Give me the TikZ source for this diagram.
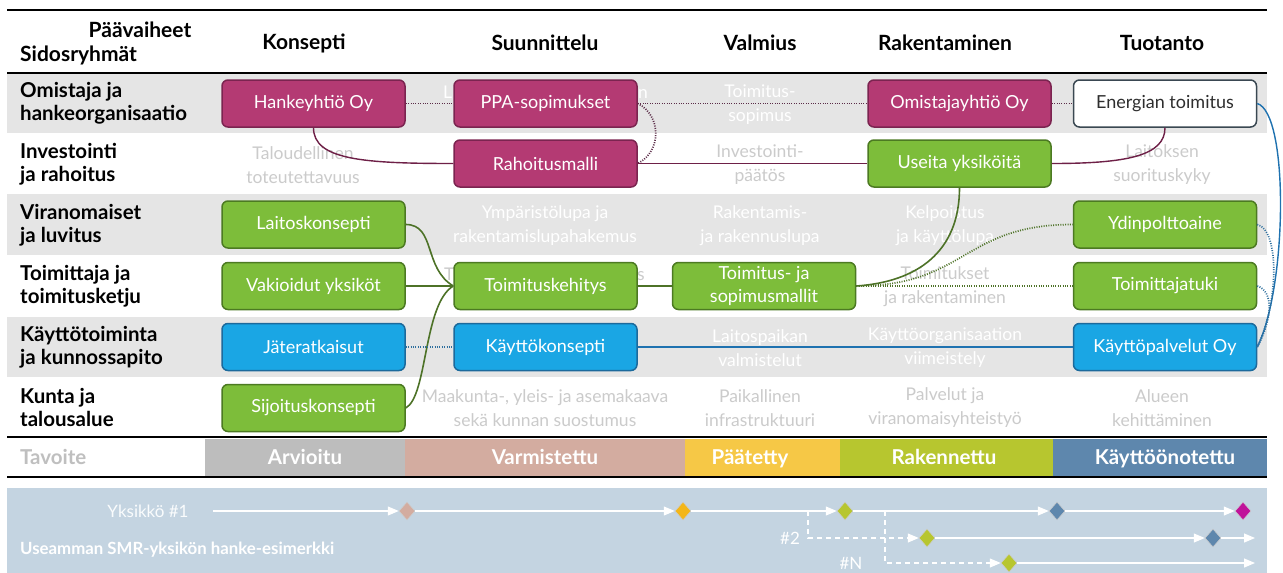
\documentclass[tikz,border=0pt]{standalone}
\usepackage{fontspec}
\setmainfont{Lato}
\usetikzlibrary{arrows.meta,shapes.geometric}
\definecolor{mag}{HTML}{B43A73}
\definecolor{magd}{HTML}{7B2450}
\definecolor{grn}{HTML}{7DBD3A}
\definecolor{grnd}{HTML}{4C7A22}
\definecolor{blu}{HTML}{1AA6E4}
\definecolor{blud}{HTML}{1C6A9C}
\definecolor{wbd}{HTML}{3A4852}
\definecolor{txtd}{HTML}{2E2E2E}
\definecolor{rowg}{HTML}{E5E5E5}
\definecolor{faint}{HTML}{CBCBCB}
\definecolor{arv}{HTML}{BDBDBD}
\definecolor{varm}{HTML}{D3ACA0}
\definecolor{paa}{HTML}{F6C846}
\definecolor{rak}{HTML}{B7C62F}
\definecolor{kay}{HTML}{5E87AD}
\definecolor{panel}{HTML}{C4D4E1}
\definecolor{dyel}{HTML}{F3B619}
\definecolor{dmag}{HTML}{C0139A}
\definecolor{mdc}{HTML}{5B2C48}
\definecolor{msc}{HTML}{6E2047}
\definecolor{gsc}{HTML}{4D7227}
\definecolor{bsc}{HTML}{1F72B0}
\definecolor{bdc}{HTML}{2E6F9E}
\definecolor{tav}{HTML}{BFBFBF}
\begin{document}
\begin{tikzpicture}[x=1pt,y=-1pt,
  box/.style={rounded corners=6pt, minimum width=183pt, minimum height=47pt, line width=1.5pt, text=white, align=center, inner sep=2pt, font=\fontsize{18}{23}\selectfont},
  mbox/.style={box, fill=mag, draw=magd},
  gbox/.style={box, fill=grn, draw=grnd},
  bbox/.style={box, fill=blu, draw=blud},
  wbox/.style={box, fill=white, draw=wbd, text=txtd},
  cellw/.style={align=center, inner sep=0pt, text=white, font=\fontsize{17.5}{24}\selectfont},
  cellg/.style={cellw, text=faint},
  rlab/.style={anchor=west, align=left, inner sep=0pt, font=\bfseries\fontsize{20.5}{23}\selectfont},
  head/.style={inner sep=0pt, font=\bfseries\fontsize{21}{23}\selectfont},
  goal/.style={inner sep=0pt, anchor=base, text=white, font=\bfseries\fontsize{20.5}{23}\selectfont},
  mdot/.style={draw=mdc, line width=1.7pt, dash pattern=on 1pt off 1.4pt},
  msol/.style={draw=msc, line width=1.4pt},
  gsol/.style={draw=gsc, line width=1.6pt},
  gdot/.style={draw=gsc, line width=1.7pt, dash pattern=on 1pt off 1.4pt},
  bsol/.style={draw=bsc, line width=1.4pt},
  bdot/.style={draw=bdc, line width=1.7pt, dash pattern=on 1pt off 1.4pt},
  rule/.style={draw=black, line width=2.2pt},
  tl/.style={draw=white, line width=1.2pt, -{Triangle[width=9pt,length=11pt]}},
  tld/.style={tl, dash pattern=on 5pt off 4pt},
  dia/.style={diamond, inner sep=0pt, minimum width=16pt, minimum height=18pt, draw=white!60!gray, line width=0.5pt},
  tlab/.style={inner sep=0pt, text=white, font=\fontsize{17}{20}\selectfont}
]
\useasboundingbox (0,0) rectangle (1283,573);
\fill[white] (0,0) rectangle (1283,573);
% grey rows
\fill[rowg] (7,74) rectangle (1267,133);
\fill[rowg] (7,194) rectangle (1267,255);
\fill[rowg] (7,317) rectangle (1267,377);
% rules
\draw[rule] (7,10) -- (1267,10);
\draw[rule] (7,73) -- (1267,73);
% header
\node[head] (hpaa) at (140,30) {Päävaiheet};
\node[head, anchor=west] (hsid) at (20,55) {Sidosryhmät};
\node[head] (hk) at (304,43) {Konsepti};
\node[head] (hs) at (545,43) {Suunnittelu};
\node[head] (hv) at (760,43) {Valmius};
\node[head] (hr) at (945,43) {Rakentaminen};
\node[head] (ht) at (1162,43) {Tuotanto};
% row labels
\node[rlab] (l1) at (20,103) {Omistaja ja\\hankeorganisaatio};
\node[rlab] (l2) at (20,164) {Investointi\\ja rahoitus};
\node[rlab] (l3) at (20,225) {Viranomaiset\\ja luvitus};
\node[rlab] (l4) at (20,286) {Toimittaja ja\\toimitusketju};
\node[rlab] (l5) at (20,347) {Käyttötoiminta\\ja kunnossapito};
\node[rlab] (l6) at (20,407) {Kunta ja\\talousalue};
% faint cell texts (fragments visible beside boxes)
\node[cellw, anchor=base west] (c1sa) at (443,98) {L};
\node[cellw, anchor=base east] (c1sb) at (648,98) {n};
\node[cellg, anchor=base west] (c4sa) at (444,280) {T};
\node[cellg, anchor=base east] (c4sb) at (645,280) {s};
\node[cellw] (c1v) at (760,105) {Toimitus-\\sopimus};
\node[cellg] (c2k) at (303,165) {Taloudellinen\\toteutettavuus};
\node[cellg] (c2v) at (760,165) {Investointi-\\päätös};
\node[cellg] (c2t) at (1162,165) {Laitoksen\\suorituskyky};
\node[cellw] (c3s) at (545,226) {Ympäristölupa ja\\rakentamislupahakemus};
\node[cellw] (c3v) at (760,226) {Rakentamis-\\ja rakennuslupa};
\node[cellw] (c3r) at (945,226) {Kelpoistus\\ja käyttölupa};
\node[cellg] (c4r) at (945,287) {Toimitukset\\ja rakentaminen};
\node[cellw] (c5v) at (760,348) {Laitospaikan\\valmistelut};
\node[cellw] (c5r) at (945,348) {Käyttöorganisaation\\viimeistely};
\node[cellg] (c6s) at (545,408) {Maakunta-, yleis- ja asemakaava\\sekä kunnan suostumus};
\node[cellg] (c6v) at (760,408) {Paikallinen\\infrastruktuuri};
\node[cellg] (c6r) at (945,408) {Palvelut ja\\viranomaisyhteistyö};
\node[cellg] (c6t) at (1162,408) {Alueen\\kehittäminen};
% boxes
\node[mbox] (hanke) at (313.5,103.5) {Hankeyhtiö Oy};
\node[mbox] (ppa) at (545.5,103.5) {PPA-sopimukset};
\node[mbox] (omist) at (959.5,103.5) {Omistajayhtiö Oy};
\node[wbox] (energ) at (1165,103.5) {Energian toimitus};
\node[mbox] (rahoit) at (545.5,163.5) {Rahoitusmalli};
\node[gbox] (useita) at (959.5,163.5) {Useita yksiköitä};
\node[gbox] (laitos) at (313.5,224.5) {Laitoskonsepti};
\node[gbox] (ydin) at (1165,224.5) {Ydinpolttoaine};
\node[gbox] (vakio) at (313.5,286) {Vakioidut yksiköt};
\node[gbox] (tkeh) at (545.5,286) {Toimituskehitys};
\node[gbox] (tsop) at (764,286) {Toimitus- ja\\sopimusmallit};
\node[gbox] (ttuki) at (1165,286) {Toimittajatuki};
\node[bbox] (jate) at (313.5,347) {Jäteratkaisut};
\node[bbox] (kkons) at (545.5,347) {Käyttökonsepti};
\node[bbox] (kpalv) at (1165,347) {Käyttöpalvelut Oy};
\node[gbox] (sijoit) at (313.5,408) {Sijoituskonsepti};
% connectors magenta
\draw[mdot] (hanke.east) -- (ppa.west);
\draw[mdot] (ppa.east) -- (omist.west);
\draw[mdot] (omist.east) -- (energ.west);
\draw[mdot] (ppa.east) .. controls +(24,12) and +(24,-12) .. (rahoit.east);
\draw[msol] (hanke.south) .. controls +(0,32) and +(-90,0) .. (rahoit.west);
\draw[msol] (rahoit.east) -- (useita.west);
\draw[msol] (useita.east) .. controls +(75,0) and +(0,28) .. (energ.south);
% connectors green
\draw[gsol] (laitos.east) .. controls +(30,0) and +(-30,-18) .. (tkeh.west);
\draw[gsol] (vakio.east) -- (tkeh.west);
\draw[gsol] (sijoit.east) .. controls +(22,-12) and +(-30,18) .. (tkeh.west);
\draw[gsol] (tkeh.east) -- (tsop.west);
\draw[gsol] (useita.south) .. controls +(0,65) and +(60,-4) .. (tsop.east);
\draw[gdot] (tsop.east) .. controls +(110,0) and +(-110,0) .. (ydin.west);
\draw[gdot] (tsop.east) -- (ttuki.west);
% connectors blue
\draw[bdot] (jate.east) -- (kkons.west);
\draw[bsol] (kkons.east) -- (kpalv.west);
\draw[bsol] (energ.east) .. controls +(32,10) and +(30,-60) .. (kpalv.east);
\draw[bdot] (ydin.east) .. controls +(22,5) and +(22,-45) .. (kpalv.east);
\draw[bdot] (ttuki.east) .. controls +(16,5) and +(16,-30) .. (kpalv.east);
% goal row
\draw[rule] (7,437) -- (1267,437);
\fill[arv] (205,438.5) rectangle (405,476);
\fill[varm] (405,438.5) rectangle (685,476);
\fill[paa] (685,438.5) rectangle (840,476);
\fill[rak] (840,438.5) rectangle (1053,476);
\fill[kay] (1053,438.5) rectangle (1267,476);
\draw[rule] (7,477) -- (1267,477);
\node[goal, anchor=base west, text=tav] (tavo) at (20,464) {Tavoite};
\node[goal] (g1) at (305,464) {Arvioitu};
\node[goal] (g2) at (545,464) {Varmistettu};
\node[goal] (g3) at (750,464) {Päätetty};
\node[goal] (g4) at (944,464) {Rakennettu};
\node[goal] (g5) at (1165,464) {Käyttöönotettu};
% bottom panel
\fill[panel] (7,488) rectangle (1267,573);
\node[tlab, text=white!92!panel] (y1) at (148,511) {Yksikkö \#1};
\node[tlab] (y2) at (790,538) {\#2};
\node[tlab] (yn) at (851,563) {\#N};
\node[inner sep=0pt, anchor=west, text=white, font=\bfseries\fontsize{16.8}{20}\selectfont] (usea) at (20,550) {Useamman SMR-yksikön hanke-esimerkki};
\coordinate (s1) at (213,511);
\node[dia, fill=varm] (d1) at (407,511) {};
\node[dia, fill=dyel] (d2) at (683,511) {};
\node[dia, fill=rak] (d3) at (845,511) {};
\node[dia, fill=kay] (d4) at (1057,511) {};
\node[dia, fill=dmag] (d5) at (1243,511) {};
\draw[tl] (s1) -- (d1.west);
\draw[tl] (d1.east) -- (d2.west);
\draw[tl] (d2.east) -- (d3.west);
\draw[tl] (d3.east) -- (d4.west);
\draw[tl] (d4.east) -- (d5.west);
\coordinate (b2) at (808,511);
\coordinate (k2) at (808,538);
\node[dia, fill=rak] (d6) at (927,538) {};
\node[dia, fill=kay] (d7) at (1213,538) {};
\coordinate (e2) at (1255,538);
\draw[tld] (b2) -- (k2) -- (d6.west);
\draw[tl] (d6.east) -- (d7.west);
\draw[tl] (d7.east) -- (e2);
\coordinate (b3) at (885,511);
\coordinate (k3) at (885,563);
\node[dia, fill=rak] (d8) at (1009,563) {};
\coordinate (e3) at (1255,563);
\draw[tld] (b3) -- (k3) -- (d8.west);
\draw[tl] (d8.east) -- (e3);
\end{tikzpicture}
\end{document}
